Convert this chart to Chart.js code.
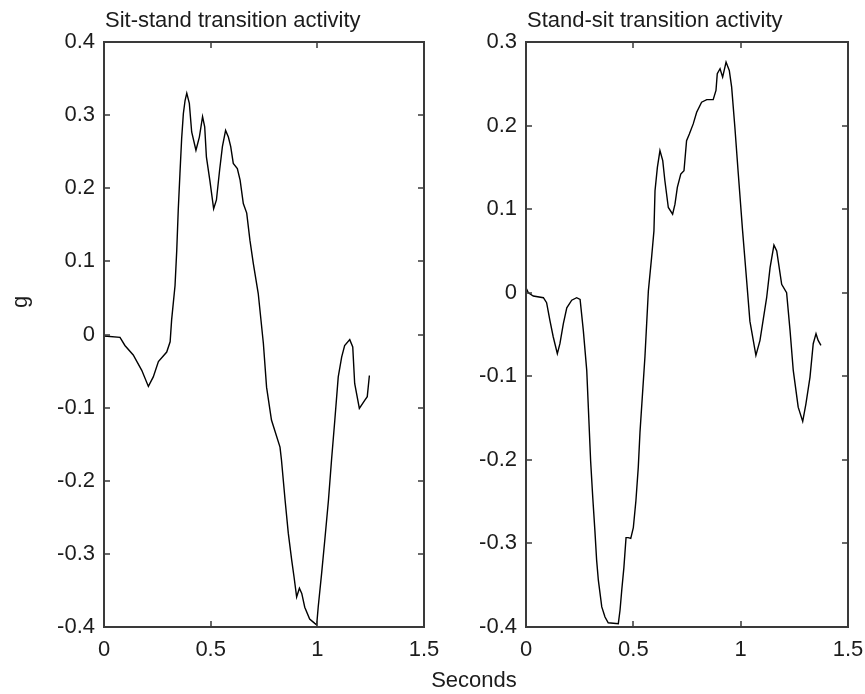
<!DOCTYPE html>
<html>
<head>
<meta charset="utf-8">
<title>Transition activity</title>
<script src="https://cdn.jsdelivr.net/npm/chart.js@4.4.1/dist/chart.umd.min.js"></script>
<style>
  html, body { margin: 0; padding: 0; background: #fff; }
  #figure { position: relative; width: 865px; height: 694px; }
  #figure canvas { position: absolute; left: 0; top: 0; }
</style>
</head>
<body>
<div id="figure">
  <canvas id="sit-stand" width="865" height="694" style="width:865px;height:694px"></canvas>
  <canvas id="stand-sit" width="865" height="694" style="width:865px;height:694px"></canvas>
</div>
<script>
// Sit-to-stand acceleration trace (seconds, g)
const sitStandTime = [
  0, 0.075, 0.098, 0.137, 0.177, 0.208, 0.231, 0.255, 0.294, 0.31,
  0.317, 0.333, 0.341, 0.348, 0.356, 0.364, 0.372, 0.38, 0.388, 0.4,
  0.411, 0.431, 0.447, 0.462, 0.472, 0.48, 0.496, 0.514, 0.527, 0.542,
  0.555, 0.57, 0.583, 0.594, 0.606, 0.625, 0.638, 0.653, 0.669, 0.684,
  0.7, 0.723, 0.747, 0.762, 0.785, 0.825, 0.832, 0.849, 0.864, 0.88,
  0.891, 0.903, 0.916, 0.927, 0.941, 0.964, 0.988, 0.997, 1.004, 1.02,
  1.035, 1.052, 1.067, 1.082, 1.098, 1.114, 1.128, 1.152, 1.166, 1.175,
  1.197, 1.222, 1.234, 1.244,
];
const sitStandG = [
  -0.002, -0.004, -0.015, -0.028, -0.049, -0.071, -0.058, -0.037, -0.024, -0.01,
  0.02, 0.067, 0.115, 0.17, 0.22, 0.268, 0.302, 0.32, 0.33, 0.316,
  0.277, 0.252, 0.27, 0.298, 0.284, 0.243, 0.211, 0.172, 0.184, 0.225,
  0.257, 0.279, 0.27, 0.257, 0.234, 0.227, 0.211, 0.179, 0.166, 0.129,
  0.097, 0.056, -0.012, -0.072, -0.117, -0.154, -0.172, -0.227, -0.272, -0.309,
  -0.332, -0.359, -0.347, -0.354, -0.373, -0.389, -0.395, -0.397, -0.373, -0.327,
  -0.281, -0.227, -0.17, -0.117, -0.058, -0.031, -0.015, -0.007, -0.017, -0.067,
  -0.101, -0.09, -0.085, -0.056,
];

// Stand-to-sit acceleration trace (seconds, g)
const standSitTime = [
  0, 0.011, 0.034, 0.081, 0.096, 0.112, 0.127, 0.146, 0.158, 0.174,
  0.19, 0.213, 0.236, 0.252, 0.267, 0.283, 0.293, 0.301, 0.311, 0.321,
  0.329, 0.337, 0.353, 0.368, 0.383, 0.43, 0.438, 0.446, 0.456, 0.466,
  0.476, 0.488, 0.5, 0.512, 0.523, 0.531, 0.554, 0.57, 0.585, 0.596,
  0.601, 0.612, 0.624, 0.637, 0.647, 0.663, 0.683, 0.694, 0.705, 0.721,
  0.736, 0.748, 0.761, 0.779, 0.795, 0.818, 0.842, 0.872, 0.885, 0.891,
  0.904, 0.916, 0.932, 0.947, 0.958, 0.973, 0.989, 1.009, 1.028, 1.043,
  1.071, 1.09, 1.121, 1.137, 1.155, 1.168, 1.191, 1.214, 1.23, 1.245,
  1.268, 1.289, 1.304, 1.323, 1.338, 1.351, 1.361, 1.374,
];
const standSitG = [
  0.006, 0, -0.004, -0.006, -0.012, -0.034, -0.053, -0.073, -0.061, -0.037,
  -0.018, -0.009, -0.006, -0.008, -0.045, -0.093, -0.153, -0.201, -0.245, -0.285,
  -0.32, -0.344, -0.376, -0.388, -0.395, -0.396, -0.38, -0.356, -0.329, -0.293,
  -0.293, -0.294, -0.281, -0.249, -0.209, -0.167, -0.077, 0.002, 0.042, 0.074,
  0.122, 0.15, 0.17, 0.158, 0.134, 0.102, 0.094, 0.106, 0.126, 0.142,
  0.146, 0.182, 0.19, 0.202, 0.216, 0.228, 0.231, 0.231, 0.242, 0.262,
  0.268, 0.258, 0.276, 0.266, 0.246, 0.198, 0.142, 0.074, 0.014, -0.034,
  -0.075, -0.057, -0.006, 0.03, 0.057, 0.05, 0.01, 0, -0.045, -0.093,
  -0.137, -0.154, -0.133, -0.101, -0.061, -0.049, -0.057, -0.063,
];

// Axis ticks
const secondsTicks = [0, 0.5, 1, 1.5];
const sitStandTicks = [-0.4, -0.3, -0.2, -0.1, 0, 0.1, 0.2, 0.3, 0.4];
const standSitTicks = [-0.4, -0.3, -0.2, -0.1, 0, 0.1, 0.2, 0.3];

const FONT = "'Liberation Sans', Arial, sans-serif";
const FONT_SIZE = 22;
const INK = "#1c1c1c";
const FRAME = "#3a3a3a";
const TICK_LEN = 6;
const Y_AXIS_W = 60;
const X_AXIS_H = 45;
const PAGE_W = 865;
const PAGE_H = 694;

function tickLabel(v) {
  return v === 0 ? "0" : String(v);
}

// Box outline, inward ticks on all four sides, and free text (titles, axis names)
const panelFrame = {
  id: "panelFrame",
  afterDatasetsDraw(chart, args, opts) {
    const { ctx, chartArea: a, scales } = chart;
    ctx.save();
    ctx.strokeStyle = FRAME;
    ctx.lineWidth = 1.5;
    ctx.beginPath();
    scales.x.ticks.forEach((t) => {
      const x = Math.round(scales.x.getPixelForValue(t.value));
      ctx.moveTo(x, a.bottom);
      ctx.lineTo(x, a.bottom - TICK_LEN);
      ctx.moveTo(x, a.top);
      ctx.lineTo(x, a.top + TICK_LEN);
    });
    scales.y.ticks.forEach((t) => {
      const y = Math.round(scales.y.getPixelForValue(t.value));
      ctx.moveTo(a.left, y);
      ctx.lineTo(a.left + TICK_LEN, y);
      ctx.moveTo(a.right, y);
      ctx.lineTo(a.right - TICK_LEN, y);
    });
    ctx.stroke();
    ctx.lineWidth = 2;
    ctx.strokeRect(a.left, a.top, a.right - a.left, a.bottom - a.top);

    ctx.fillStyle = INK;
    ctx.font = `${FONT_SIZE}px ${FONT}`;
    ctx.textAlign = "left";
    ctx.textBaseline = "alphabetic";
    ctx.fillText(opts.title, a.left + 1, 27);

    (opts.labels || []).forEach((l) => {
      ctx.save();
      ctx.translate(l.x, l.y);
      ctx.rotate(l.rotate || 0);
      ctx.textAlign = "center";
      ctx.textBaseline = "middle";
      ctx.fillText(l.text, 0, 0);
      ctx.restore();
    });
    ctx.restore();
  },
};

function makePanel(canvasId, { time, values, yTicks, box, title, labels }) {
  const fixTicks = (list) => (scale) => {
    scale.ticks = list.map((v) => ({ value: v }));
  };

  return new Chart(document.getElementById(canvasId), {
    type: "line",
    plugins: [panelFrame],
    data: {
      datasets: [
        {
          data: time.map((t, i) => ({ x: t, y: values[i] })),
          borderColor: "#000",
          borderWidth: 1.4,
          pointRadius: 0,
          tension: 0,
          fill: false,
        },
      ],
    },
    options: {
      responsive: false,
      animation: false,
      events: [],
      layout: {
        padding: {
          left: box.left - Y_AXIS_W,
          top: box.top,
          right: PAGE_W - box.right,
          bottom: PAGE_H - box.bottom - X_AXIS_H,
        },
      },
      scales: {
        x: {
          type: "linear",
          min: 0,
          max: 1.5,
          afterBuildTicks: fixTicks(secondsTicks),
          afterFit(scale) {
            scale.height = X_AXIS_H;
            scale.paddingLeft = 0;
            scale.paddingRight = 0;
          },
          grid: { display: false },
          border: { display: false },
          ticks: {
            color: INK,
            font: { family: FONT, size: FONT_SIZE },
            padding: 2,
            maxRotation: 0,
            autoSkip: false,
            callback: tickLabel,
          },
        },
        y: {
          type: "linear",
          min: yTicks[0],
          max: yTicks[yTicks.length - 1],
          afterBuildTicks: fixTicks(yTicks),
          afterFit(scale) {
            scale.width = Y_AXIS_W;
            scale.paddingTop = 0;
            scale.paddingBottom = 0;
          },
          grid: { display: false },
          border: { display: false },
          ticks: {
            color: INK,
            font: { family: FONT, size: FONT_SIZE },
            padding: 1,
            autoSkip: false,
            callback: tickLabel,
          },
        },
      },
      plugins: {
        legend: { display: false },
        tooltip: { enabled: false },
        panelFrame: { title, labels },
      },
    },
  });
}

makePanel("sit-stand", {
  time: sitStandTime,
  values: sitStandG,
  yTicks: sitStandTicks,
  box: { left: 104, top: 42, right: 424, bottom: 627 },
  title: "Sit-stand transition activity",
  labels: [{ text: "g", x: 21, y: 302, rotate: -Math.PI / 2 }],
});

makePanel("stand-sit", {
  time: standSitTime,
  values: standSitG,
  yTicks: standSitTicks,
  box: { left: 526, top: 42, right: 848, bottom: 627 },
  title: "Stand-sit transition activity",
  labels: [{ text: "Seconds", x: 474, y: 681 }],
});
</script>
</body>
</html>
